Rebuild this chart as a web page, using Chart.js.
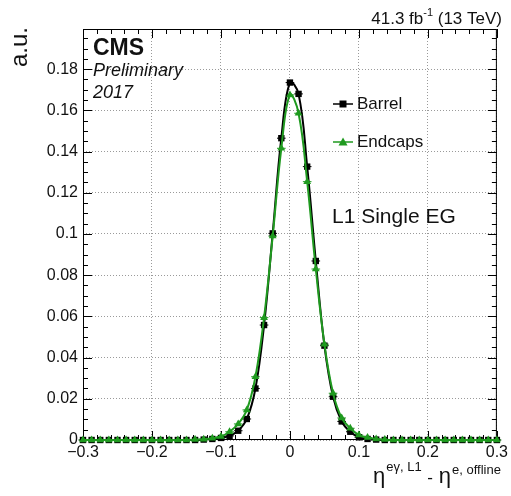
<!DOCTYPE html>
<html>
<head>
<meta charset="utf-8">
<script src="https://cdn.jsdelivr.net/npm/chart.js@4"></script>
<style>
  body { margin: 0; background: #fff; }
  canvas { display: block; }
</style>
</head>
<body>
<canvas id="chart" width="511" height="496"></canvas>
<script>
// bin centres (eta difference)
const binCenters = [
  -0.3, -0.2875, -0.275, -0.2625, -0.25, -0.2375, -0.225, -0.2125, -0.2, -0.1875,
  -0.175, -0.1625, -0.15, -0.1375, -0.125, -0.1125, -0.1, -0.0875, -0.075, -0.0625,
  -0.05, -0.0375, -0.025, -0.0125, 0, 0.0125, 0.025, 0.0375, 0.05, 0.0625,
  0.075, 0.0875, 0.1, 0.1125, 0.125, 0.1375, 0.15, 0.1625, 0.175, 0.1875,
  0.2, 0.2125, 0.225, 0.2375, 0.25, 0.2625, 0.275, 0.2875, 0.3
];
const barrelValues = [
  0, 0, 0, 0, 0, 0, 0, 0, 0, 0,
  0, 0, 0, 0, 0.0002, 0.0005, 0.001, 0.002, 0.0045, 0.0102,
  0.025, 0.0558, 0.1003, 0.1465, 0.1735, 0.168, 0.1327, 0.0869, 0.0458, 0.021,
  0.009, 0.004, 0.0013, 0.0005, 0.0002, 0, 0, 0, 0, 0,
  0, 0, 0, 0, 0, 0, 0, 0, 0
];
const endcapValues = [
  0, 0, 0, 0, 0, 0, 0, 0, 0, 0,
  0, 0, 0, 0.0002, 0.0004, 0.0008, 0.0017, 0.004, 0.0078, 0.0146,
  0.0307, 0.0594, 0.099, 0.1416, 0.1675, 0.1586, 0.1254, 0.083, 0.0465, 0.0227,
  0.0107, 0.0057, 0.0024, 0.0012, 0.0005, 0.0002, 0, 0, 0, 0,
  0, 0, 0, 0, 0, 0, 0, 0, 0
];
const binHalfWidth = 0.00625;

const xTicks = [-0.3, -0.2, -0.1, 0, 0.1, 0.2, 0.3];
const xTickLabels = ["\u22120.3", "\u22120.2", "\u22120.1", "0", "0.1", "0.2", "0.3"];
const yTicks = [0, 0.02, 0.04, 0.06, 0.08, 0.1, 0.12, 0.14, 0.16, 0.18];
const yTickLabels = ["0", "0.02", "0.04", "0.06", "0.08", "0.1", "0.12", "0.14", "0.16", "0.18"];

const FONT = '"Liberation Sans", Arial, sans-serif';
const GREEN = "#1f9a1f";

function toPoints(values) {
  return values.map((v, i) => ({ x: binCenters[i], y: v }));
}

// petites barres horizontales (largeur du bin)
const errorBars = {
  id: "errorBars",
  beforeDatasetsDraw(chart) {
    const ctx = chart.ctx;
    const xs = chart.scales.x, ys = chart.scales.y;
    chart.data.datasets.forEach((ds) => {
      ctx.save();
      ctx.strokeStyle = ds.borderColor;
      ctx.lineWidth = 1;
      ds.data.forEach((p) => {
        const py = ys.getPixelForValue(p.y);
        ctx.beginPath();
        ctx.moveTo(xs.getPixelForValue(p.x - binHalfWidth), py);
        ctx.lineTo(xs.getPixelForValue(p.x + binHalfWidth), py);
        ctx.stroke();
      });
      ctx.restore();
    });
  }
};

// cadre + graduations style ROOT, textes
const decorations = {
  id: "decorations",
  beforeDatasetsDraw(chart) {
    const ctx = chart.ctx;
    const a = chart.chartArea;
    const xs = chart.scales.x, ys = chart.scales.y;
    ctx.save();
    ctx.strokeStyle = "#000";
    ctx.lineWidth = 1;
    ctx.strokeRect(a.left + 0.5, a.top + 0.5, a.right - a.left - 1, a.bottom - a.top - 1);

    ctx.beginPath();
    for (let k = -15; k <= 15; k++) {
      const v = k * 0.02;
      const px = Math.round(xs.getPixelForValue(v)) + 0.5;
      const len = k % 5 === 0 ? 9 : 5;
      ctx.moveTo(px, a.bottom);
      ctx.lineTo(px, a.bottom - len);
      ctx.moveTo(px, a.top);
      ctx.lineTo(px, a.top + len);
    }
    for (let k = 0; k <= 39; k++) {
      const v = k * 0.005;
      if (v > ys.max) break;
      const py = Math.round(ys.getPixelForValue(v)) + 0.5;
      const len = k % 4 === 0 ? 9 : 5;
      ctx.moveTo(a.left, py);
      ctx.lineTo(a.left + len, py);
      ctx.moveTo(a.right, py);
      ctx.lineTo(a.right - len, py);
    }
    ctx.stroke();
    ctx.restore();
  },
  afterDraw(chart) {
    const ctx = chart.ctx;
    ctx.save();
    ctx.fillStyle = "#111";
    ctx.textBaseline = "alphabetic";

    // a.u.
    ctx.save();
    ctx.translate(27, 27);
    ctx.rotate(-Math.PI / 2);
    ctx.textAlign = "right";
    ctx.font = "24px " + FONT;
    ctx.fillText("a.u.", 0, 0);
    ctx.restore();

    ctx.textAlign = "left";
    ctx.font = "bold 23px " + FONT;
    ctx.fillText("CMS", 93, 55);
    ctx.font = "italic 18px " + FONT;
    ctx.fillText("Preliminary", 93, 76);
    ctx.fillText("2017", 93, 98);

    ctx.font = "21px " + FONT;
    ctx.fillText("L1 Single EG", 332, 223);

    // lumi
    const parts = [["41.3 fb", 17, 24], ["-1", 11, 16], [" (13 TeV)", 17, 24]];
    let total = 0;
    parts.forEach((p) => { ctx.font = p[1] + "px " + FONT; total += ctx.measureText(p[0]).width; });
    let x = 502 - total;
    parts.forEach((p) => {
      ctx.font = p[1] + "px " + FONT;
      ctx.fillText(p[0], x, p[2]);
      x += ctx.measureText(p[0]).width;
    });

    // titre axe x
    const title = [["\u03b7", 22, 483], ["e\u03b3, L1", 13, 471], [" - ", 17, 483], ["\u03b7", 22, 483], ["e, offline", 13, 474]];
    x = 373;
    title.forEach((p) => {
      ctx.font = p[1] + "px " + FONT;
      ctx.fillText(p[0], x, p[2]);
      x += ctx.measureText(p[0]).width + 1;
    });

    // légende
    const legend = [["Barrel", "#000", "rect", 104], ["Endcaps", GREEN, "triangle", 142]];
    legend.forEach((l) => {
      const ly = l[3];
      ctx.strokeStyle = l[1];
      ctx.fillStyle = l[1];
      ctx.lineWidth = 1.5;
      ctx.beginPath();
      ctx.moveTo(333, ly);
      ctx.lineTo(353, ly);
      ctx.stroke();
      ctx.beginPath();
      if (l[2] === "rect") {
        ctx.rect(339.5, ly - 3.5, 7, 7);
      } else {
        ctx.moveTo(343, ly - 4.5);
        ctx.lineTo(347.5, ly + 3.5);
        ctx.lineTo(338.5, ly + 3.5);
        ctx.closePath();
      }
      ctx.fill();
      ctx.fillStyle = "#111";
      ctx.font = "17px " + FONT;
      ctx.textBaseline = "middle";
      ctx.fillText(l[0], 357, ly);
      ctx.textBaseline = "alphabetic";
    });
    ctx.restore();
  }
};

const ctx = document.getElementById("chart");
const etaChart = new Chart(ctx, {
  type: "line",
  data: {
    datasets: [
      {
        label: "Barrel",
        data: toPoints(barrelValues),
        borderColor: "#000",
        backgroundColor: "#000",
        borderWidth: 2,
        tension: 0.4,
        pointStyle: "rect",
        pointRadius: 4.5,
        pointBorderWidth: 0,
        clip: false,
        order: 2,
      },
      {
        label: "Endcaps",
        data: toPoints(endcapValues),
        borderColor: GREEN,
        backgroundColor: GREEN,
        borderWidth: 2,
        tension: 0.4,
        pointStyle: "triangle",
        pointRadius: 4.5,
        pointBorderWidth: 0,
        clip: false,
        order: 1,
      },
    ],
  },
  options: {
    responsive: false,
    animation: false,
    layout: { padding: { top: 29, right: 14, left: 0, bottom: 0 } },
    plugins: { legend: { display: false }, tooltip: { enabled: false } },
    scales: {
      x: {
        type: "linear",
        min: -0.3,
        max: 0.3,
        afterBuildTicks: (scale) => { scale.ticks = xTicks.map((v) => ({ value: v })); },
        afterFit: (scale) => { scale.height = 56; },
        grid: { color: "#9a9a9a", lineWidth: 1, drawTicks: false },
        border: { display: false, dash: [1, 2] },
        ticks: {
          autoSkip: false,
          maxRotation: 0,
          padding: 3,
          color: "#111",
          font: { family: FONT, size: 16 },
          callback: (v, i) => xTickLabels[i],
        },
      },
      y: {
        min: 0,
        max: 0.1995,
        afterBuildTicks: (scale) => { scale.ticks = yTicks.map((v) => ({ value: v })); },
        afterFit: (scale) => { scale.width = 83; },
        grid: { color: "#9a9a9a", lineWidth: 1, drawTicks: false },
        border: { display: false, dash: [1, 2] },
        ticks: {
          padding: 5,
          color: "#111",
          font: { family: FONT, size: 16 },
          callback: (v, i) => yTickLabels[i],
        },
      },
    },
  },
  plugins: [errorBars, decorations],
});
</script>
</body>
</html>
